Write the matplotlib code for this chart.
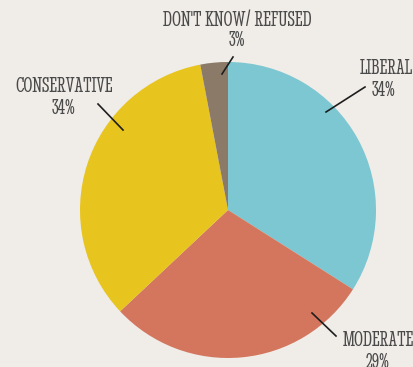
import matplotlib.pyplot as plt

labels = ["LIBERAL", "MODERATE", "CONSERVATIVE", "DON'T KNOW/ REFUSED"]
shares = [34, 29, 34, 3]
colors = ["#7cc7d1", "#d3765d", "#e8c41f", "#8c7a68"]

W, H = 414, 367
bg = "#f0ece8"
ink = "#4a4a4a"
family = ["Stint Ultra Condensed", "Oswald", "DejaVu Sans"]

fig = plt.figure(figsize=(W / 100, H / 100), dpi=100, facecolor=bg)
ax = fig.add_axes([0, 0, 1, 1])
ax.set_facecolor(bg)

ax.pie(shares, colors=colors, startangle=90, counterclock=False,
       center=(228, H - 210), radius=148, frame=True,
       wedgeprops=dict(linewidth=0))
ax.set_xlim(0, W)
ax.set_ylim(0, H)
ax.set_aspect("auto")
ax.axis("off")

# label centre (x, y, ha) and leader line ends, pixels from the top-left
placements = {
    "LIBERAL": ((413, 69, "right"), ((365, 87), (326, 112))),
    "MODERATE": ((378, 341, "center"), ((336, 336), (312, 313))),
    "CONSERVATIVE": ((64, 87, "center"), ((98, 104), (123, 130))),
    "DON'T KNOW/ REFUSED": ((237, 20, "center"), ((233, 57), (222, 74))),
}
pct_x = {"LIBERAL": 384}

for name, pct in zip(labels, shares):
    (tx, ty, ha), (p0, p1) = placements[name]
    ax.text(tx, H - ty, name, ha=ha, va="center", color=ink,
            fontsize=16.5, family=family)
    ax.text(pct_x.get(name, tx), H - ty - 21, f"{pct}%", ha="center",
            va="center", color=ink, fontsize=16.5, family=family)
    ax.plot([p0[0], p1[0]], [H - p0[1], H - p1[1]], color="#1e1e1e", lw=1.2)

fig.savefig("out.png", dpi=100, facecolor=bg)
